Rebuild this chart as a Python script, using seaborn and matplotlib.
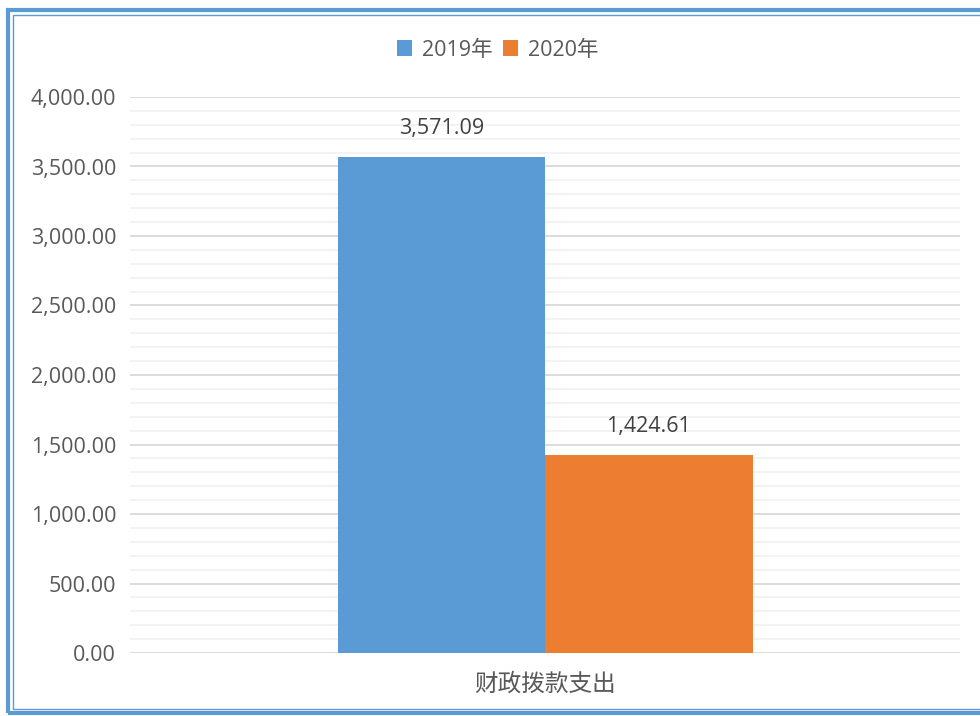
import matplotlib
matplotlib.use('Agg')
import matplotlib.pyplot as plt
import seaborn as sns
import pandas as pd
from matplotlib.patches import Rectangle
from matplotlib.ticker import MultipleLocator, FuncFormatter

# chart data
categories = ['财政拨款支出']
years = ['2019年', '2020年']
values = [3571.09, 1424.61]
colors = ['#5B9BD5', '#ED7D31']

df = pd.DataFrame({
    'category': categories * len(years),
    'year': years,
    'value': values,
})

sns.set_style('white')
plt.rcParams['font.family'] = ['Open Sans', 'Noto Sans CJK SC', 'DejaVu Sans']
text_color = '#595959'

fig = plt.figure(figsize=(9.8, 7.16), dpi=100)
ax = fig.add_axes([130 / 980, 1 - 653 / 716, 830 / 980, (653 - 97) / 716])

sns.barplot(data=df, x='category', y='value', hue='year', palette=colors,
            width=0.5, saturation=1, linewidth=0, ax=ax, zorder=3)

# gridlines: major every 500, minor every 100
ax.set_ylim(0, 4000)
ax.yaxis.set_major_locator(MultipleLocator(500))
ax.yaxis.set_minor_locator(MultipleLocator(100))
ax.yaxis.set_major_formatter(FuncFormatter(lambda v, p: f'{v:,.2f}'))
ax.grid(axis='y', which='major', color='#D9D9D9', linewidth=1.3, zorder=0)
ax.grid(axis='y', which='minor', color='#F2F2F2', linewidth=1.3, zorder=0)
ax.set_axisbelow(True)
for s in ax.spines.values():
    s.set_visible(False)
ax.tick_params(axis='y', which='both', length=0, labelsize=15.5, labelcolor=text_color, pad=10)
ax.tick_params(axis='x', length=0, labelsize=17, labelcolor=text_color, pad=14)
for lbl in ax.get_xticklabels():
    lbl.set_family(['Noto Sans CJK SC', 'DejaVu Sans'])
ax.set_xlabel('')
ax.set_ylabel('')

# data labels
for cont in ax.containers:
    ax.bar_label(cont, labels=[f'{v:,.2f}' for v in cont.datavalues],
                 padding=13, fontsize=15.5, color='#404040')

sns.move_legend(ax, 'center', bbox_to_anchor=(0.508, 1 - 50 / 716),
                bbox_transform=fig.transFigure, ncol=2, frameon=False,
                title=None, fontsize=15.5, handlelength=0.7, handleheight=0.7,
                handletextpad=0.45, columnspacing=0.5, labelcolor=text_color)

# blue frame around the chart
fig.patches.append(Rectangle((8 / 980, 1 - 713 / 716), 1.0, (713 - 10) / 716,
                             transform=fig.transFigure, fill=False,
                             edgecolor='#5B9BD5', linewidth=3))
fig.patches.append(Rectangle((13 / 980, 1 - 709 / 716), 1.0, (709 - 15) / 716,
                             transform=fig.transFigure, fill=False,
                             edgecolor='#5B9BD5', linewidth=1))

fig.savefig('out.png', dpi=100)
